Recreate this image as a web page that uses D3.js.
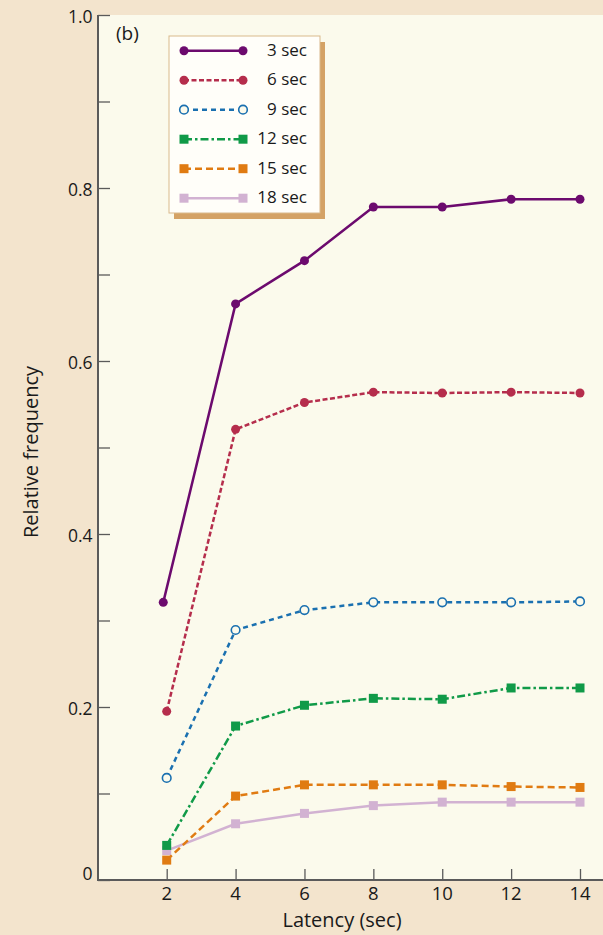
<!DOCTYPE html>
<html>
<head>
<meta charset="utf-8">
<script src="https://cdn.jsdelivr.net/npm/d3@7"></script>
<style>
  html, body { margin: 0; padding: 0; background: #f3e4cd; }
  svg { display: block; }
  text { font-family: "Open Sans", "Noto Sans", sans-serif; fill: #1a1a1a; }
</style>
</head>
<body>
<svg id="chart" width="603" height="935"></svg>
<script>
// ---- Data ----
const latency = [2, 4, 6, 8, 10, 12, 14];
const latency3 = [1.9, 4, 6, 8, 10, 12, 14];
const seriesNames = ["3 sec", "6 sec", "9 sec", "12 sec", "15 sec", "18 sec"];
const sec3  = [0.321, 0.666, 0.716, 0.778, 0.778, 0.787, 0.787];
const sec6  = [0.195, 0.521, 0.552, 0.564, 0.563, 0.564, 0.563];
const sec9  = [0.118, 0.289, 0.312, 0.321, 0.321, 0.321, 0.322];
const sec12 = [0.040, 0.178, 0.202, 0.210, 0.209, 0.222, 0.222];
const sec15 = [0.023, 0.097, 0.110, 0.110, 0.110, 0.108, 0.107];
const sec18 = [0.034, 0.065, 0.077, 0.086, 0.090, 0.090, 0.090];
const yTicks = [0, 0.2, 0.4, 0.6, 0.8, 1.0];
const yTickLabels = ["0", "0.2", "0.4", "0.6", "0.8", "1.0"];
const yMinorTicks = [0.1, 0.3, 0.5, 0.7, 0.9];
const xTicks = [2, 4, 6, 8, 10, 12, 14];

(function () {
// ---- Styles ----
const styles = [
  { color: "#6c0a6e", dash: null,         marker: "circle", width: 2.5 },
  { color: "#b52d4c", dash: "5,2.5",      marker: "circle", width: 2.5 },
  { color: "#1a70b0", dash: "5,4",        marker: "open",   width: 2.5 },
  { color: "#109a48", dash: "8,3,2.5,3",  marker: "square", width: 2.5 },
  { color: "#e07b12", dash: "7,4",        marker: "square", width: 2.5 },
  { color: "#d2b2d2", dash: null,         marker: "square", width: 2.5 }
];
const seriesValues = [sec3, sec6, sec9, sec12, sec15, sec18];
const seriesX = [latency3, latency, latency, latency, latency, latency];

const svg = d3.select("#chart");
const pLeft = 98, pRight = 603, pTop = 15, pBottom = 880;
const plotBg = "#fbfaec";

svg.append("rect").attr("x", 0).attr("y", 0).attr("width", 603).attr("height", 935).attr("fill", "#f3e4cd");
svg.append("rect").attr("x", pLeft).attr("y", pTop).attr("width", pRight - pLeft).attr("height", pBottom - pTop).attr("fill", plotBg);

const x = d3.scaleLinear().domain([2, 14]).range([166.7, 580]);
const y = d3.scaleLinear().domain([0, 1]).range([pBottom, pTop]);

const axisColor = "#5a5a5a";

// y axis
const yAxis = svg.append("g").attr("transform", `translate(${pLeft},0)`)
  .call(d3.axisRight(y).tickValues(yTicks).tickFormat(() => "").tickSize(12).tickSizeOuter(0));
yAxis.select(".domain").remove();
yAxis.selectAll("line").attr("stroke", axisColor).attr("stroke-width", 1.3);
const yMinor = svg.append("g").attr("transform", `translate(${pLeft},0)`)
  .call(d3.axisRight(y).tickValues(yMinorTicks).tickFormat(() => "").tickSize(12).tickSizeOuter(0));
yMinor.select(".domain").remove();
yMinor.selectAll("line").attr("stroke", axisColor).attr("stroke-width", 1.3);

svg.append("g").selectAll("text").data(yTicks).join("text")
  .attr("x", pLeft - 5.5).attr("y", d => d === 0 ? y(d) - 5 : y(d) + 3.5)
  .attr("text-anchor", "end").attr("dominant-baseline", "middle")
  .attr("font-size", 17.5).text((d, i) => yTickLabels[i]);

svg.append("line").attr("x1", pLeft).attr("x2", pLeft).attr("y1", pTop).attr("y2", pBottom + 1)
  .attr("stroke", axisColor).attr("stroke-width", 2);

// x axis
const xAxis = svg.append("g").attr("transform", `translate(0,${pBottom})`)
  .call(d3.axisTop(x).tickValues(xTicks).tickFormat(() => "").tickSize(11).tickSizeOuter(0));
xAxis.select(".domain").remove();
xAxis.selectAll("line").attr("stroke", axisColor).attr("stroke-width", 1.3);
svg.append("g").selectAll("text").data(xTicks).join("text")
  .attr("x", d => x(d)).attr("y", 895.5)
  .attr("text-anchor", "middle").attr("dominant-baseline", "middle")
  .attr("font-size", 18.5).text(d => d);
svg.append("line").attr("x1", pLeft - 1).attr("x2", pRight).attr("y1", pBottom).attr("y2", pBottom)
  .attr("stroke", axisColor).attr("stroke-width", 2);

// axis titles
svg.append("text").attr("x", 342).attr("y", 922).attr("text-anchor", "middle")
  .attr("dominant-baseline", "middle").attr("font-size", 20).text("Latency (sec)");
svg.append("text").attr("transform", "translate(33,452) rotate(-90)")
  .attr("text-anchor", "middle").attr("dominant-baseline", "middle")
  .attr("font-size", 20).text("Relative frequency");

// panel label
svg.append("text").attr("x", 116).attr("y", 35).attr("dominant-baseline", "middle")
  .attr("font-size", 19).text("(b)");

const line = d3.line();
function drawMarker(g, cx, cy, st) {
  if (st.marker === "circle") {
    g.append("circle").attr("cx", cx).attr("cy", cy).attr("r", 4.5).attr("fill", st.color);
  } else if (st.marker === "open") {
    g.append("circle").attr("cx", cx).attr("cy", cy).attr("r", 4.3)
      .attr("fill", plotBg).attr("stroke", st.color).attr("stroke-width", 1.6);
  } else {
    g.append("rect").attr("x", cx - 4.5).attr("y", cy - 4.5).attr("width", 9).attr("height", 9).attr("fill", st.color);
  }
}
const order = [5, 4, 3, 2, 1, 0];
order.forEach(i => {
  const st = styles[i];
  const g = svg.append("g");
  const pts = seriesValues[i].map((v, j) => [x(seriesX[i][j]), y(v)]);
  g.append("path").attr("d", line(pts)).attr("fill", "none")
    .attr("stroke", st.color).attr("stroke-width", st.width)
    .attr("stroke-dasharray", st.dash);
  pts.forEach(p => drawMarker(g, p[0], p[1], st));
});

// legend
const lg = svg.append("g");
const lx = 169, ly = 36, lw = 151, lh = 177;
lg.append("rect").attr("x", lx + 5).attr("y", ly + 6).attr("width", lw).attr("height", lh).attr("fill", "#d4a265");
lg.append("rect").attr("x", lx).attr("y", ly).attr("width", lw).attr("height", lh)
  .attr("fill", "#fffef9").attr("stroke", "#d9b98c").attr("stroke-width", 1);
seriesNames.forEach((name, i) => {
  const st = styles[i];
  const cy = 50.7 + i * 29.5;
  const g = lg.append("g");
  g.append("line").attr("x1", 184).attr("x2", 243).attr("y1", cy).attr("y2", cy)
    .attr("stroke", st.color).attr("stroke-width", st.width).attr("stroke-dasharray", st.dash);
  drawMarker(g, 184, cy, st);
  drawMarker(g, 243, cy, st);
  g.append("text").attr("x", 307).attr("y", cy + 0.5).attr("text-anchor", "end")
    .attr("dominant-baseline", "middle").attr("font-size", 17).text(name);
});
})();
</script>
</body>
</html>
